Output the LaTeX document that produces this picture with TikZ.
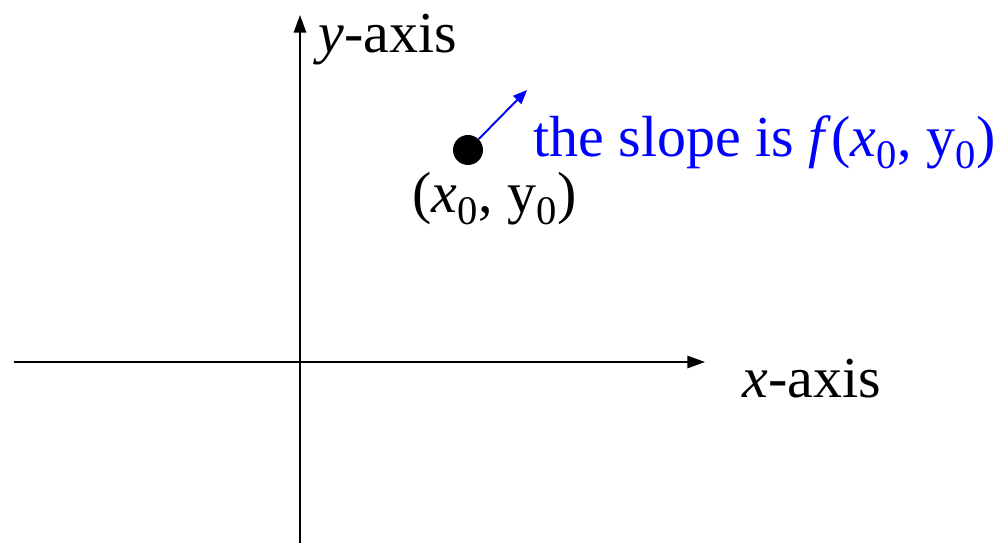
\documentclass[tikz,border=0pt]{standalone}
\usepackage{fontspec}
\setmainfont{Liberation Serif}
\usetikzlibrary{arrows.meta}

\begin{document}
\begin{tikzpicture}[x=0.02cm, y=-0.02cm,
                axis/.style={line width=1.1pt, -{Triangle[length=10pt,width=7pt]}},
                lbl/.style={anchor=base west, inner sep=0pt,
                            font=\fontsize{33}{40}\selectfont},
                slope/.style={blue, line width=1.1pt, -{Triangle[length=8pt,width=6.5pt]}}]
                \useasboundingbox (0,0) rectangle (994,543);
                \coordinate (xs) at (14,362);
                \coordinate (xe) at (705,362);
                \coordinate (ys) at (300,543);
                \coordinate (ye) at (300,15);
                \draw[axis] (xs) -- (xe);
                \draw[axis] (ys) -- (ye);
                \node[lbl] (xl) at (742,398) {\textit{x}-axis};
                \node[lbl] (yl) at (318,53) {\textit{y}-axis};
                \node[circle, fill=black, inner sep=0pt, minimum size=0.6cm] (pt) at (468,150) {};
                \coordinate (tip) at (527,90);
                \draw[slope] (pt) -- (tip);
                \node[lbl, blue] (sl) at (533,157) {the slope is \textit{f}(\textit{x}\textsubscript{0}, y\textsubscript{0})};
                \node[lbl] (pl) at (412,213) {(\textit{x}\textsubscript{0}, y\textsubscript{0})};
            \end{tikzpicture}
\end{document}
